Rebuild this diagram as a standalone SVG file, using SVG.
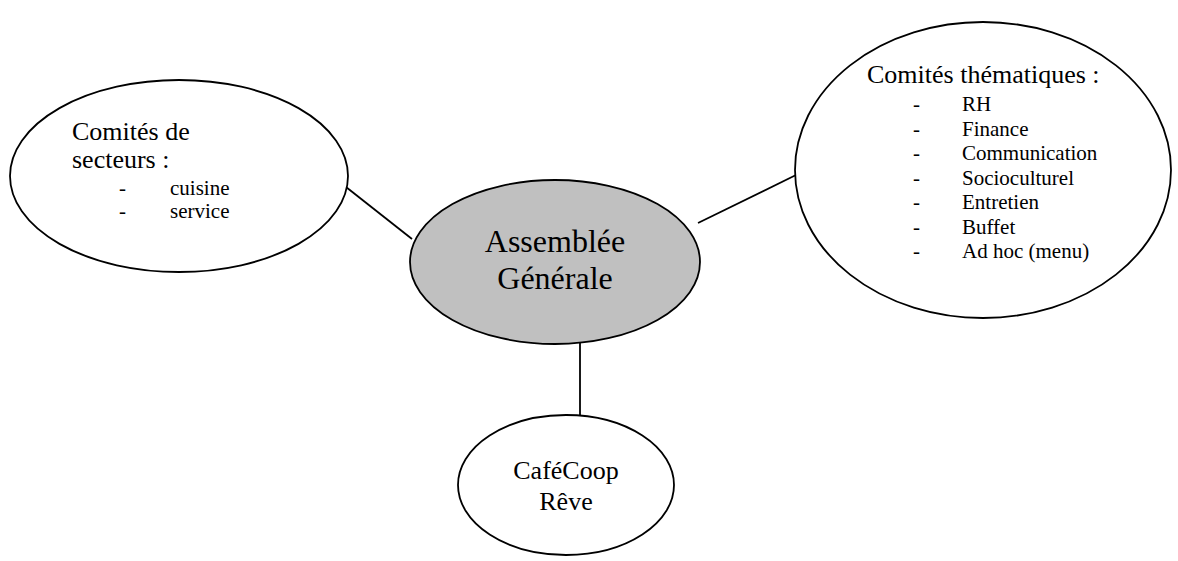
<svg xmlns="http://www.w3.org/2000/svg" width="1178" height="561" viewBox="0 0 1178 561">
<style>
.node ellipse{fill:#fff;stroke:#000;stroke-width:1.8}
.node.main ellipse{fill:#c0c0c0}
text{font-family:"Liberation Serif","Times New Roman",serif;fill:#000}
.big{font-size:26px}
.huge{font-size:32px}
.small{font-size:21px}
.c{text-anchor:middle}
#connectors line{stroke:#000;stroke-width:1.8}
</style>
<rect width="1178" height="561" fill="#fff"/>
<g id="connectors">
<line x1="346" y1="187" x2="412" y2="239"/>
<line x1="698" y1="223" x2="796" y2="175"/>
<line x1="580" y1="343" x2="580" y2="415"/>
</g>
<g id="secteurs" class="node">
<ellipse cx="179" cy="176" rx="169" ry="96"/>
<text class="big" x="72" y="140">Comités de</text>
<text class="big" x="72" y="168">secteurs :</text>
<text class="small" x="119" y="195">-</text>
<text class="small" x="170" y="195">cuisine</text>
<text class="small" x="119" y="218">-</text>
<text class="small" x="170" y="218">service</text>
</g>
<g id="thematiques" class="node">
<ellipse cx="983" cy="170" rx="188" ry="148"/>
<text class="big" x="867" y="83">Comités thématiques :</text>
<g class="small">
<text x="913" y="111">-</text><text x="962" y="111">RH</text>
<text x="913" y="136">-</text><text x="962" y="136">Finance</text>
<text x="913" y="160">-</text><text x="962" y="160">Communication</text>
<text x="913" y="185">-</text><text x="962" y="185">Socioculturel</text>
<text x="913" y="209">-</text><text x="962" y="209">Entretien</text>
<text x="913" y="234">-</text><text x="962" y="234">Buffet</text>
<text x="913" y="258">-</text><text x="962" y="258">Ad hoc (menu)</text>
</g>
</g>
<g id="assemblee" class="node main">
<ellipse cx="555" cy="262" rx="145" ry="82"/>
<text class="huge c" x="555" y="252">Assemblée</text>
<text class="huge c" x="555" y="289">Générale</text>
</g>
<g id="cafecoop" class="node">
<ellipse cx="566" cy="485" rx="108" ry="70"/>
<text class="big c" x="566" y="479">CaféCoop</text>
<text class="big c" x="566" y="510">Rêve</text>
</g>
</svg>
